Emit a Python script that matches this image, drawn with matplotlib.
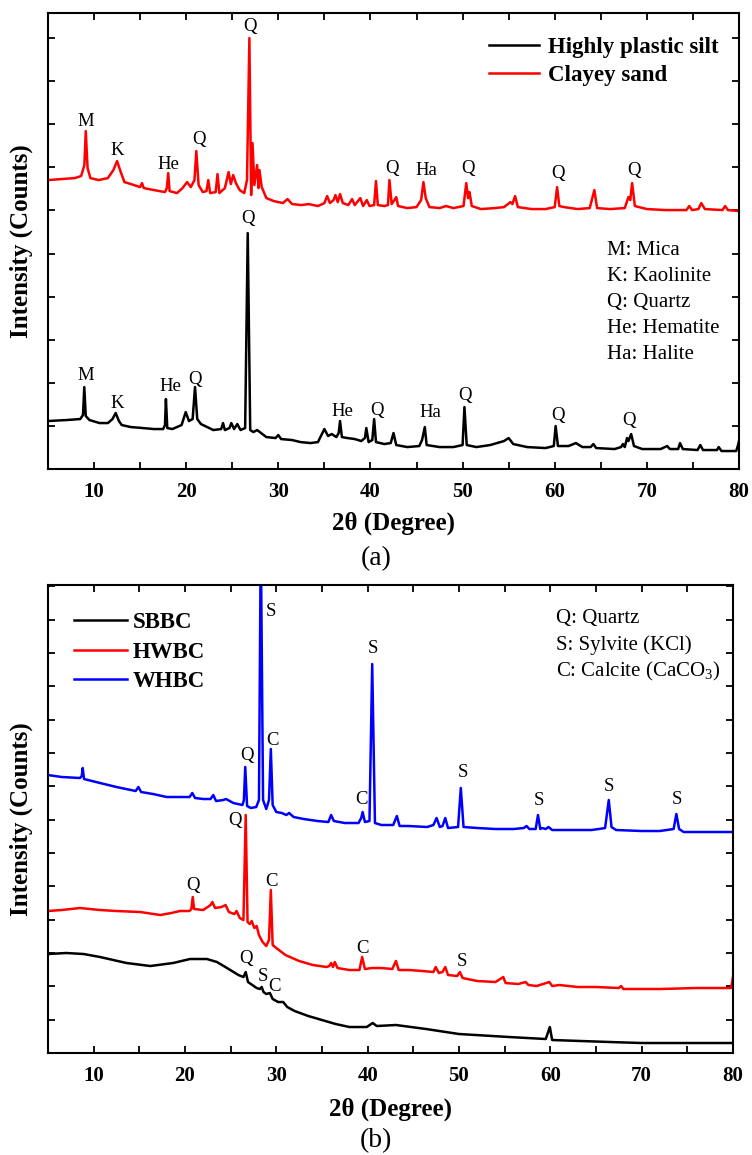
"""XRD patterns of the two soils (a) and the three biochars (b)."""

import matplotlib
matplotlib.use("Agg")
import matplotlib.pyplot as plt
from matplotlib.ticker import MultipleLocator, NullFormatter

plt.rcParams["font.family"] = ["Liberation Serif", "DejaVu Serif"]
plt.rcParams["mathtext.fontset"] = "custom"
plt.rcParams["mathtext.rm"] = "Liberation Serif"
plt.rcParams["mathtext.it"] = "Liberation Serif:italic"
plt.rcParams["mathtext.bf"] = "Liberation Serif:bold"

# ---- panel (a): soils (arbitrary counts) ----
silt_2theta = [5.0, 7.0, 8.5, 8.8, 8.94, 9.1, 9.5, 10.6, 11.5, 12.0, 12.35, 12.7, 13.0, 14.0,
               15.3, 16.5, 17.5, 17.7, 17.8, 17.95, 18.5, 19.5, 19.95, 20.3, 20.7, 20.96, 21.2,
               21.6, 22.95, 23.8, 24.0, 24.2, 24.7, 24.9, 25.2, 25.55, 25.9, 26.4, 26.68, 26.95,
               27.3, 27.7, 28.7, 29.7, 30.0, 30.3, 31.5, 32.4, 33.5, 34.3, 35.0, 35.4, 35.8,
               36.3, 36.55, 36.7, 36.9, 37.5, 38.3, 39.0, 39.4, 39.55, 39.8, 40.2, 40.4, 40.6,
               41.5, 42.2, 42.5, 42.8, 44.0, 45.3, 45.6, 45.9, 46.1, 47.5, 49.0, 50.0, 50.2,
               50.45, 51.5, 53.0, 54.5, 55.0, 55.5, 57.0, 59.0, 59.9, 60.1, 60.35, 61.5, 62.3,
               63.0, 63.9, 64.2, 64.5, 66.5, 67.2, 67.4, 67.6, 67.85, 68.0, 68.3, 68.6, 69.5,
               71.5, 72.2, 72.5, 73.4, 73.6, 73.9, 75.5, 75.8, 76.1, 77.6, 77.8, 78.1, 79.7,
               79.9, 80.0]
silt_counts = [1114, 1137, 1160, 1253, 1902, 1230, 1137, 1067, 1067, 1160, 1299, 1114, 1021, 974,
               951, 928, 928, 1021, 1624, 951, 928, 1021, 1322, 1114, 1160, 1902, 1160,
               1044, 905, 928, 1067, 905, 951, 1067, 928, 1044, 905, 951, 5475, 905,
               858, 905, 742, 719, 789, 696, 673, 626, 603, 626, 928, 766, 812,
               742, 835, 1114, 742, 719, 696, 650, 719, 951, 626, 673, 1160, 626,
               580, 603, 835, 557, 510, 534, 673, 974, 557, 510, 510, 557, 1438,
               557, 510, 557, 650, 719, 580, 510, 487, 534, 998, 534, 534, 603,
               510, 510, 580, 487, 464, 510, 580, 510, 719, 650, 812, 534, 464,
               464, 534, 464, 464, 603, 464, 441, 557, 441, 441, 510, 418, 418,
               557, 650]

sand_2theta = [5.0, 6.5, 7.9, 8.6, 8.95, 9.1, 9.3, 9.6, 10.5, 11.5, 12.1, 12.5, 12.9, 13.3,
               14.0, 15.0, 15.2, 15.4, 16.5, 17.7, 17.9, 18.05, 18.2, 19.0, 19.6, 20.1, 20.5,
               20.9, 21.1, 21.35, 21.8, 22.2, 22.4, 22.6, 23.2, 23.4, 23.6, 24.2, 24.6, 24.85,
               25.1, 25.4, 25.8, 26.3, 26.6, 26.86, 27.05, 27.2, 27.4, 27.7, 27.85, 27.95, 28.2,
               28.7, 29.5, 30.5, 31.0, 31.5, 32.5, 33.3, 34.3, 35.0, 35.3, 35.6, 36.0, 36.2,
               36.45, 36.7, 37.0, 37.6, 38.0, 38.3, 38.9, 39.2, 39.6, 39.9, 40.4, 40.6, 40.8,
               41.5, 41.9, 42.06, 42.3, 42.6, 42.8, 43.0, 44.0, 45.0, 45.5, 45.75, 46.0, 46.4,
               47.5, 48.2, 49.0, 50.1, 50.4, 50.6, 50.75, 51.0, 52.0, 53.5, 54.5, 55.2, 55.4,
               55.7, 56.0, 57.5, 59.0, 60.0, 60.26, 60.5, 61.0, 62.5, 63.8, 64.3, 64.6, 66.0,
               67.6, 68.0, 68.2, 68.4, 68.7, 70.0, 72.0, 74.3, 74.6, 74.9, 75.6, 75.9, 76.3,
               78.2, 78.5, 78.8, 80.0]
sand_counts = [6705, 6728, 6751, 6798, 7053, 7842, 6983, 6751, 6705, 6751, 6937, 7146, 6890, 6658,
               6612, 6542, 6635, 6519, 6473, 6426, 6519, 6867, 6449, 6403, 6519, 6658, 6542,
               6705, 7378, 6589, 6426, 6449, 6705, 6403, 6426, 6844, 6403, 6519, 6890, 6612,
               6821, 6635, 6473, 6403, 6705, 10000, 6357, 7563, 6589, 7053, 6519, 6937, 6542,
               6287, 6218, 6171, 6264, 6148, 6125, 6148, 6102, 6171, 6334, 6171, 6241, 6357,
               6194, 6380, 6171, 6125, 6264, 6125, 6287, 6102, 6241, 6102, 6125, 6682, 6125,
               6102, 6125, 6705, 6148, 6241, 6310, 6102, 6055, 6078, 6241, 6658, 6287, 6078,
               6055, 6102, 6055, 6102, 6635, 6287, 6426, 6102, 6032, 6055, 6078, 6194, 6148,
               6334, 6078, 6032, 6032, 6078, 6542, 6102, 6078, 6032, 6055, 6473, 6055, 6032,
               6055, 6310, 6241, 6635, 6102, 6032, 6009, 6009, 6102, 6009, 6032, 6171, 6032,
               6009, 6102, 6009, 5986]

# phase labels: (text, 2theta, counts) of the label centre
silt_phases = [("M", 9.12, 2165), ("K", 12.46, 1524), ("He", 18.24, 1909), ("Q", 20.96, 2081),
               ("Q", 26.74, 5816), ("He", 36.99, 1346), ("Q", 40.68, 1369), ("Ha", 46.46, 1306),
               ("Q", 50.26, 1717), ("Q", 60.32, 1253), ("Q", 68.1, 1137)]
sand_phases = [("M", 9.12, 8057), ("K", 12.52, 7385), ("He", 18.06, 7069), ("Q", 21.39, 7649),
               ("Q", 26.93, 10261), ("Q", 42.3, 6983), ("Ha", 46.1, 6937), ("Q", 50.55, 6976),
               ("Q", 60.32, 6860), ("Q", 68.57, 6937)]
soil_key = ["M: Mica", "K: Kaolinite", "Q: Quartz", "He: Hematite", "Ha: Halite"]

# ---- panel (b): biochars ----
sbbc_2theta = [5.0, 7.0, 8.9, 10.7, 13.6, 16.2, 18.7, 20.55, 22.4, 23.5, 24.6, 25.85, 26.4,
               26.65, 26.9, 27.85, 28.2, 28.4, 28.6, 28.9, 29.3, 29.6, 30.2, 30.75, 31.2, 32.0,
               33.5, 35.0, 36.5, 38.0, 39.9, 40.55, 41.0, 43.1, 46.4, 50.0, 55.5, 59.5, 59.95,
               60.2, 66.5, 70.0, 80.0]
sbbc_counts = [2970, 3000, 2970, 2880, 2700, 2610, 2700, 2820, 2820, 2730, 2550, 2340, 2280,
               2430, 2130, 1950, 1920, 1980, 1830, 1770, 1800, 1620, 1530, 1530, 1380, 1260,
               1110, 990, 870, 780, 780, 900, 810, 840, 720, 570, 480, 420, 780,
               390, 330, 300, 300]

hwbc_2theta = [5.0, 6.5, 8.5, 10.7, 12.5, 15.1, 17.3, 18.5, 19.45, 20.5, 20.7, 20.85, 21.0, 22.0,
               22.8, 23.0, 23.3, 24.0, 24.45, 24.8, 25.4, 25.65, 26.0, 26.4, 26.65, 26.85, 27.1,
               27.3, 27.6, 27.85, 28.1, 28.5, 28.9, 29.2, 29.4, 29.6, 30.0, 31.0, 32.5, 34.0,
               35.5, 35.8, 36.0, 36.2, 36.4, 36.7, 38.0, 39.1, 39.4, 39.7, 40.5, 41.5, 42.7,
               43.1, 43.4, 44.5, 46.0, 47.2, 47.45, 47.8, 48.2, 48.5, 48.8, 49.8, 50.1, 50.4,
               52.0, 54.0, 54.85, 55.1, 56.5, 57.3, 57.6, 58.5, 59.9, 60.2, 61.0, 63.0, 65.0,
               67.5, 67.75, 68.0, 72.0, 76.0, 79.8, 80.0]
hwbc_counts = [4260, 4290, 4350, 4290, 4260, 4230, 4140, 4200, 4260, 4260, 4320, 4680, 4320, 4290,
               4440, 4530, 4350, 4380, 4440, 4230, 4170, 4260, 4050, 3990, 7140, 3930, 3870,
               3960, 3750, 3810, 3540, 3330, 3210, 3390, 4890, 3240, 3150, 2940, 2760, 2640,
               2580, 2610, 2700, 2580, 2730, 2550, 2490, 2490, 2880, 2520, 2550, 2550, 2520,
               2760, 2490, 2490, 2460, 2430, 2580, 2400, 2430, 2580, 2340, 2310, 2430, 2250,
               2160, 2130, 2280, 2100, 2070, 2130, 2040, 2010, 2130, 2010, 2040, 1980, 1980,
               1950, 2010, 1920, 1920, 1950, 1950, 2280]

whbc_2theta = [5.0, 6.5, 8.5, 8.7, 8.8, 8.95, 10.7, 12.5, 14.6, 14.9, 15.2, 16.5, 18.0, 20.5,
               20.8, 21.1, 22.0, 22.8, 23.1, 23.4, 24.2, 24.5, 25.3, 26.3, 26.45, 26.6, 26.8,
               27.2, 27.8, 28.1, 28.3, 28.55, 28.9, 29.2, 29.4, 29.6, 30.0, 30.6, 31.1, 31.4,
               31.9, 33.0, 34.5, 35.7, 36.0, 36.3, 37.5, 39.0, 39.3, 39.45, 39.7, 40.2, 40.5,
               40.8, 41.5, 42.8, 43.2, 43.5, 44.5, 46.5, 47.2, 47.55, 47.9, 48.2, 48.5, 48.8,
               49.9, 50.2, 50.5, 52.0, 54.0, 56.0, 57.1, 57.4, 57.7, 58.4, 58.65, 58.9, 59.1,
               59.5, 59.8, 60.2, 62.5, 64.5, 65.3, 66.0, 66.4, 66.7, 67.2, 70.0, 72.0, 73.5,
               73.8, 74.1, 74.6, 77.0, 80.0]
whbc_counts = [8340, 8280, 8250, 8310, 8550, 8220, 8100, 7980, 7860, 7980, 7830, 7770, 7680, 7680,
               7800, 7650, 7620, 7620, 7740, 7560, 7590, 7620, 7500, 7440, 7590, 8580, 7410,
               7350, 7380, 7590, 15500, 7590, 7320, 7590, 9120, 7440, 7230, 7200, 7140, 7200,
               7080, 7020, 6960, 6930, 7140, 6960, 6900, 6900, 7050, 7230, 6930, 6960, 11670,
               6900, 6840, 6840, 7110, 6810, 6810, 6780, 6840, 7050, 6780, 6810, 7050, 6750,
               6780, 7950, 6780, 6750, 6720, 6720, 6750, 6810, 6720, 6720, 7140, 6720, 6750,
               6720, 6780, 6690, 6690, 6690, 6720, 6750, 7590, 6780, 6690, 6660, 6660, 6720,
               7170, 6720, 6630, 6630, 6630]

sbbc_phases = [("Q", 26.68, 2841), ("S", 28.57, 2310), ("C", 29.85, 1989)]
hwbc_phases = [("Q", 20.91, 5040), ("Q", 25.48, 6990), ("C", 29.49, 5139), ("C", 39.41, 3141),
               ("S", 50.3, 2739)]
whbc_phases = [("Q", 26.76, 8940), ("S", 29.38, 13239), ("C", 29.56, 9390), ("C", 39.35, 7611),
               ("S", 40.55, 12141), ("S", 50.47, 8409), ("S", 58.79, 7569), ("S", 66.46, 8010),
               ("S", 73.87, 7611)]
char_key = ["Q: Quartz", "S: Sylvite (KCl)", "C: Calcite (CaCO$_3$)"]


def style_axes(ax, ymax, xlabelpad):
    ax.set_xlim(5, 80)
    ax.set_ylim(0, ymax)
    ax.xaxis.set_major_locator(MultipleLocator(10))
    ax.xaxis.set_minor_locator(MultipleLocator(5))
    ax.yaxis.set_major_locator(MultipleLocator(1000))
    ax.yaxis.set_major_formatter(NullFormatter())
    ax.tick_params(which="both", direction="in", top=True, right=True, length=5, width=1.3)
    ax.tick_params(axis="x", labelsize=15, pad=9.5)
    for lab in ax.get_xticklabels():
        lab.set_fontweight("bold")
    for sp in ax.spines.values():
        sp.set_linewidth(1.5)
    ax.set_xlabel("2θ (Degree)", fontsize=18, fontweight="bold", labelpad=xlabelpad)
    ax.set_ylabel("Intensity (Counts)", fontsize=18, fontweight="bold")
    ax.yaxis.set_label_coords(-0.022, 0.5)


def put_phases(ax, phases):
    for name, x, y in phases:
        ax.text(x, y, name, fontsize=13.5, ha="center", va="center")


fig = plt.figure(figsize=(7.52, 11.55), dpi=100)

ax_a = fig.add_axes([0.0638, 0.5939, 0.9189, 0.3948])
ax_a.plot(silt_2theta, silt_counts, color="black", lw=1.8, label="Highly plastic silt")
ax_a.plot(sand_2theta, sand_counts, color="#ff0000", lw=1.8, label="Clayey sand")
style_axes(ax_a, 10580, 7)
put_phases(ax_a, silt_phases)
put_phases(ax_a, sand_phases)
ax_a.legend(loc="upper left", bbox_to_anchor=(0.638, 0.947), frameon=False, borderpad=0,
            borderaxespad=0, handlelength=2.2, handletextpad=0.4, labelspacing=0.28,
            prop={"size": 16.5, "weight": "bold"})
for i, line in enumerate(soil_key):
    ax_a.text(0.809, (469 - 250 - 26 * i) / 456, line, fontsize=15, transform=ax_a.transAxes,
              ha="left", va="center")
fig.text(0.5, 1 - 559 / 1155, "(a)", fontsize=20, ha="center", va="center")

ax_b = fig.add_axes([0.0638, 0.0883, 0.9109, 0.4052])
ax_b.plot(sbbc_2theta, sbbc_counts, color="black", lw=1.8, label="SBBC")
ax_b.plot(hwbc_2theta, hwbc_counts, color="#ff0000", lw=1.8, label="HWBC")
ax_b.plot(whbc_2theta, whbc_counts, color="#0000ff", lw=1.8, label="WHBC")
style_axes(ax_b, 14040, 8)
put_phases(ax_b, sbbc_phases)
put_phases(ax_b, hwbc_phases)
put_phases(ax_b, whbc_phases)
ax_b.legend(loc="upper left", bbox_to_anchor=(0.038, 0.942), frameon=False, borderpad=0,
            borderaxespad=0, handlelength=2.3, handletextpad=0.25, labelspacing=0.37,
            prop={"size": 16.5, "weight": "bold"})
for i, line in enumerate(char_key):
    ax_b.text(0.7416, (1053 - 618.3 - 26.7 * i) / 468, line, fontsize=15,
              transform=ax_b.transAxes, ha="left", va="center")
fig.text(0.5, 1 - 1141 / 1155, "(b)", fontsize=20, ha="center", va="center")

fig.savefig("out.png", dpi=100)
